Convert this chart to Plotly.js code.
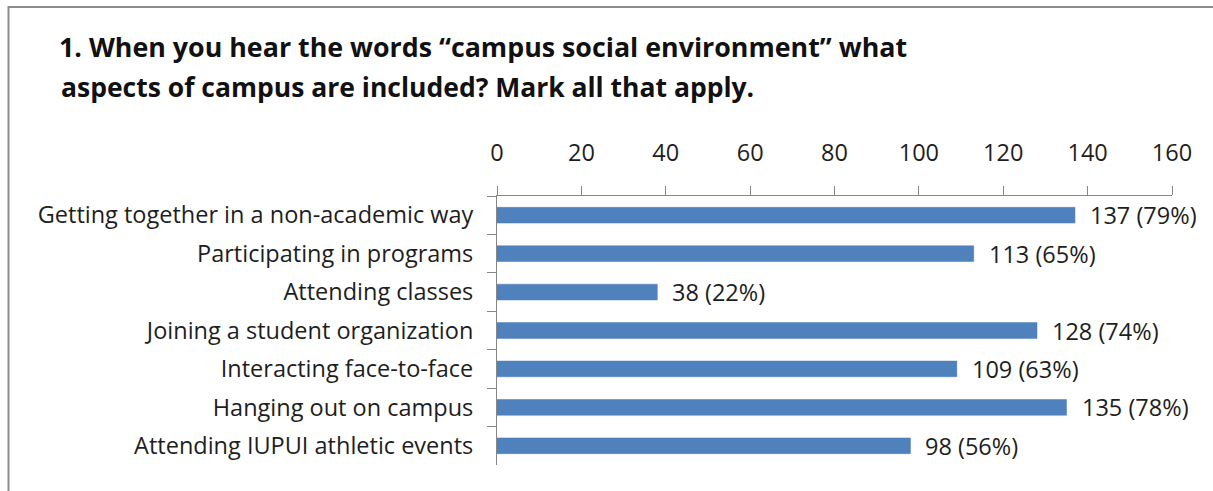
<!DOCTYPE html>
<html>
<head>
<meta charset="utf-8">
<script src="https://cdn.plot.ly/plotly-3.0.1.min.js"></script>
<style>html,body{margin:0;padding:0;background:#fff;}#chart{width:1213px;height:491px;}</style>
</head>
<body>
<div id="chart"></div>
<script>
const categories = [
  "Getting together in a non-academic way",
  "Participating in programs",
  "Attending classes",
  "Joining a student organization",
  "Interacting face-to-face",
  "Hanging out on campus",
  "Attending IUPUI athletic events"
];
const counts = [137, 113, 38, 128, 109, 135, 98];
const percents = [79, 65, 22, 74, 63, 78, 56];
const tickValues = [0, 20, 40, 60, 80, 100, 120, 140, 160];
const titleLines = [
  "1. When you hear the words “campus social environment” what",
  "aspects of campus are included? Mark all that apply."
];

const W = 1213, H = 491;
const L = 497, R = 41, T = 196, B = 26;
const pw = W - L - R, ph = H - T - B;
const px = v => (v - L) / pw;
const py = v => (H - B - v) / ph;

const font = "'Open Sans', Lato, sans-serif";
const textColor = "#1e1e1e";

const trace = {
  type: "bar",
  orientation: "h",
  x: counts,
  y: categories,
  width: 0.41,
  marker: {color: "#4F81BD", line: {color: "#4A7EBB", width: 0.5}},
  hoverinfo: "x+y"
};

const annotations = counts.map((c, i) => ({
  x: c, y: categories[i], xref: "x", yref: "y",
  text: c + " (" + percents[i] + "%)",
  showarrow: false, xanchor: "left", xshift: 13,
  font: {family: font, size: 23.5, color: textColor}
}));

annotations.push({
  text: "<b>" + titleLines[1] + "</b>",
  xref: "paper", yref: "paper", x: px(59), y: py(87),
  xanchor: "left", yanchor: "middle", showarrow: false,
  font: {family: font, size: 26.5, color: "#111"}
});

const layout = {
  width: W, height: H,
  margin: {l: L, r: R, t: T, b: B, pad: 0},
  paper_bgcolor: "#fff", plot_bgcolor: "#fff",
  showlegend: false,
  font: {family: font, size: 23.5, color: textColor},
  title: {
    text: "<b>" + titleLines[0] + "</b>",
    x: 59 / W, xref: "container", xanchor: "left",
    y: 1 - 48 / H, yref: "container", yanchor: "middle",
    font: {family: font, size: 26.8, color: "#111"}
  },
  xaxis: {
    side: "top", range: [0, 160], tickvals: tickValues, ticktext: tickValues.map(String),
    showgrid: false, zeroline: false, showline: true, linecolor: "#868686", linewidth: 1,
    ticks: "outside", ticklen: 9, tickcolor: "#868686", ticklabelstandoff: 16,
    tickfont: {family: font, size: 23.5, color: textColor}, fixedrange: true
  },
  yaxis: {
    type: "category", autorange: "reversed", showgrid: false, zeroline: false,
    showline: true, linecolor: "#868686", linewidth: 1,
    ticks: "outside", ticklen: 9, tickcolor: "#868686", tickson: "boundaries",
    ticklabelstandoff: 18,
    tickfont: {family: font, size: 23.5, color: textColor}, fixedrange: true
  },
  annotations: annotations,
  shapes: [
    {type: "line", xref: "paper", yref: "paper", x0: px(8), x1: px(1213), y0: py(7), y1: py(7), line: {color: "#8c8c8c", width: 2}},
    {type: "line", xref: "paper", yref: "paper", x0: px(8.5), x1: px(8.5), y0: py(6), y1: py(491), line: {color: "#8c8c8c", width: 2}}
  ]
};

Plotly.newPlot("chart", [trace], layout, {displayModeBar: false, staticPlot: true});
</script>
</body>
</html>
